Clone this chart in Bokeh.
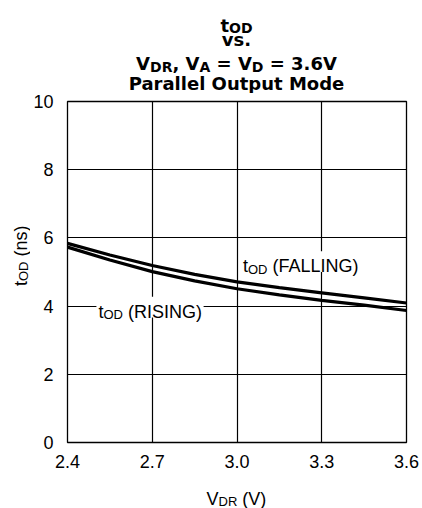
from bokeh.plotting import figure
from bokeh.models import Label, Range1d, FixedTicker
from bokeh.layouts import column, row
from bokeh.embed import file_html
from bokeh.resources import INLINE
import math

# ---- data ----
v_dr = [2.4, 2.55, 2.7, 2.85, 3.0, 3.15, 3.3, 3.45, 3.6]
t_od_falling = [5.84, 5.50, 5.19, 4.93, 4.71, 4.54, 4.39, 4.24, 4.09]
t_od_rising = [5.73, 5.35, 5.01, 4.74, 4.51, 4.33, 4.17, 4.03, 3.87]
x_ticks = [2.4, 2.7, 3.0, 3.3, 3.6]
x_tick_labels = ["2.4", "2.7", "3.0", "3.3", "3.6"]
y_ticks = [0, 2, 4, 6, 8, 10]

FONT = "Liberation Sans"
TITLE_FONT = "DejaVu Sans"

# advance widths (per 1000 em)
W_REG = {' ': 278, '(': 333, ')': 333, 'A': 667, 'D': 722, 'F': 611, 'G': 778, 'I': 278,
         'L': 556, 'N': 722, 'O': 778, 'R': 722, 'S': 667, 'V': 667, 'n': 556, 's': 500,
         't': 278, '.': 278}
W_TBOLD = {' ': 348, ',': 381, '.': 381, '=': 838, '3': 696, '6': 696, 'A': 774, 'D': 830,
           'M': 996, 'O': 850, 'P': 733, 'R': 770, 'V': 774, 'a': 675, 'd': 716, 'e': 678,
           'l': 343, 'o': 687, 'p': 716, 'r': 493, 's': 595, 't': 478, 'u': 712, 'v': 652}

# page geometry (pixels)
W, H = 422, 508
FX0, FX1, FY0, FY1 = 66, 406, 101, 445      # plot frame
TOP_H = 93                                   # title strip height
YLAB_W = 30                                  # y-label strip width
XLAB_Y = 470                                 # x-label strip top
XMIN, XMAX, YMIN, YMAX = 2.4, 3.6, 0.0, 10.0


def to_data(px, py):
    x = XMIN + (px - FX0) / (FX1 - FX0) * (XMAX - XMIN)
    y = YMIN + (FY1 - py) / (FY1 - FY0) * (YMAX - YMIN)
    return x, y


def text_width(s, size, bold):
    tbl = W_TBOLD if bold else W_REG
    return sum(tbl.get(c, 556) for c in s) * size / 1000.0


def rich(fig, segs, x, y, size, sub_size, bold=False, align="left", angle=0.0, drop=3.0):
    """segs: list of (text, is_sub); (x, y) = data position of baseline start."""
    font = TITLE_FONT if bold else FONT
    widths = [text_width(t, sub_size if s else size, bold) for t, s in segs]
    total = sum(widths)
    off = -total / 2 if align == "center" else 0.0
    for (t, s), w in zip(segs, widths):
        fs = sub_size if s else size
        d = drop if s else 0.0
        stripped = t.lstrip(" ")
        lead = text_width(t[: len(t) - len(stripped)], fs, bold)
        o = off + lead
        if angle == 0:
            xo, yo = o, -d
        else:
            xo, yo = d, o
        fig.add_layout(Label(x=x, y=y, x_offset=xo, y_offset=yo, text=stripped, angle=angle,
                             text_font=font, text_font_size=f"{fs}px",
                             text_font_style="bold" if bold else "normal",
                             text_color="black", text_align="left",
                             text_baseline="alphabetic"))
        off += w
    return total


def blank(width, height, xr, yr):
    f = figure(width=width, height=height, output_backend="svg", toolbar_location=None,
               x_range=Range1d(*xr), y_range=Range1d(*yr),
               x_axis_location=None, y_axis_location=None,
               min_border=0, min_border_left=0, min_border_right=0,
               min_border_top=0, min_border_bottom=0)
    f.outline_line_color = None
    f.grid.visible = False
    f.background_fill_color = "white"
    f.border_fill_color = "white"
    return f


# ---- main plot ----
main_w = W - YLAB_W
main_h = XLAB_Y - TOP_H
p = figure(width=main_w, height=main_h, output_backend="svg", toolbar_location=None,
           x_range=Range1d(XMIN, XMAX), y_range=Range1d(YMIN, YMAX),
           min_border_left=FX0 - YLAB_W, min_border_right=W - FX1,
           min_border_top=FY0 - TOP_H, min_border_bottom=XLAB_Y - FY1)

p.outline_line_color = "black"
p.outline_line_width = 1.3
p.background_fill_color = "white"
p.border_fill_color = "white"

p.xaxis.ticker = FixedTicker(ticks=x_ticks)
p.xaxis.major_label_overrides = {t: l for t, l in zip(x_ticks, x_tick_labels)}
p.yaxis.ticker = FixedTicker(ticks=y_ticks)
for ax in (p.xaxis, p.yaxis):
    ax.axis_line_color = None
    ax.major_tick_line_color = None
    ax.minor_tick_line_color = None
    ax.major_label_text_font = FONT
    ax.major_label_text_font_size = "18px"
    ax.major_label_text_color = "black"
p.xaxis.major_label_standoff = 6
p.yaxis.major_label_standoff = 8

p.xgrid.grid_line_color = "black"
p.ygrid.grid_line_color = "black"
p.xgrid.grid_line_alpha = 1.0
p.ygrid.grid_line_alpha = 1.0
p.xgrid.grid_line_width = 1.2
p.ygrid.grid_line_width = 1.2

# white boxes behind the curve labels (they interrupt the grid lines)
for (lx, ly, txt) in [(242, 267, " (FALLING)"), (97, 313, " (RISING)")]:
    wbox = text_width("t", 18, False) + text_width("OD", 13, False) + text_width(txt, 18, False)
    x0, y0 = to_data(lx - 2, ly + 6)
    x1, y1 = to_data(lx + wbox + 2, ly - 15)
    p.quad(left=[x0], right=[x1], bottom=[y0], top=[y1], fill_color="white", line_color=None)

p.line(v_dr, t_od_falling, line_color="black", line_width=3.2)
p.line(v_dr, t_od_rising, line_color="black", line_width=3.2)

rich(p, [("t", False), ("OD", True), (" (FALLING)", False)], *to_data(242, 267), 18, 13)
rich(p, [("t", False), ("OD", True), (" (RISING)", False)], *to_data(97, 313), 18, 13)

# ---- title strip (data coords = page pixels) ----
top = blank(W, TOP_H, (0, W), (TOP_H, 0))
cx = (FX0 + FX1) / 2
TS, TSS = 18, 14
rich(top, [("t", False), ("OD", True)], cx, 25, TS, TSS, bold=True, align="center", drop=2.5)
top.add_layout(Label(x=cx, y=39, text="vs.", text_font=TITLE_FONT, text_font_size=f"{TS}px",
                     text_font_style="bold", text_color="black", text_align="center",
                     text_baseline="alphabetic"))
rich(top, [("V", False), ("DR", True), (", V", False), ("A", True), (" = V", False), ("D", True),
           (" = 3.6V", False)], cx, 63, TS, TSS, bold=True, align="center", drop=3)
top.add_layout(Label(x=cx, y=83, text="Parallel Output Mode", text_font=TITLE_FONT,
                     text_font_size=f"{TS}px", text_font_style="bold", text_color="black",
                     text_align="center", text_baseline="alphabetic"))

# ---- y-label strip ----
ylab = blank(YLAB_W, main_h, (0, YLAB_W), (XLAB_Y, TOP_H))
rich(ylab, [("t", False), ("OD", True), (" (ns)", False)], 20, 297, 18, 13, angle=math.pi / 2)

# ---- x-label strip ----
xlab = blank(W, H - XLAB_Y, (0, W), (H, XLAB_Y))
rich(xlab, [("V", False), ("DR", True), (" (V)", False)], 206, 498, 18, 13)

layout = column(top, row(ylab, p, spacing=0), xlab, spacing=0)
open("out.html", "w").write(file_html(layout, INLINE))
